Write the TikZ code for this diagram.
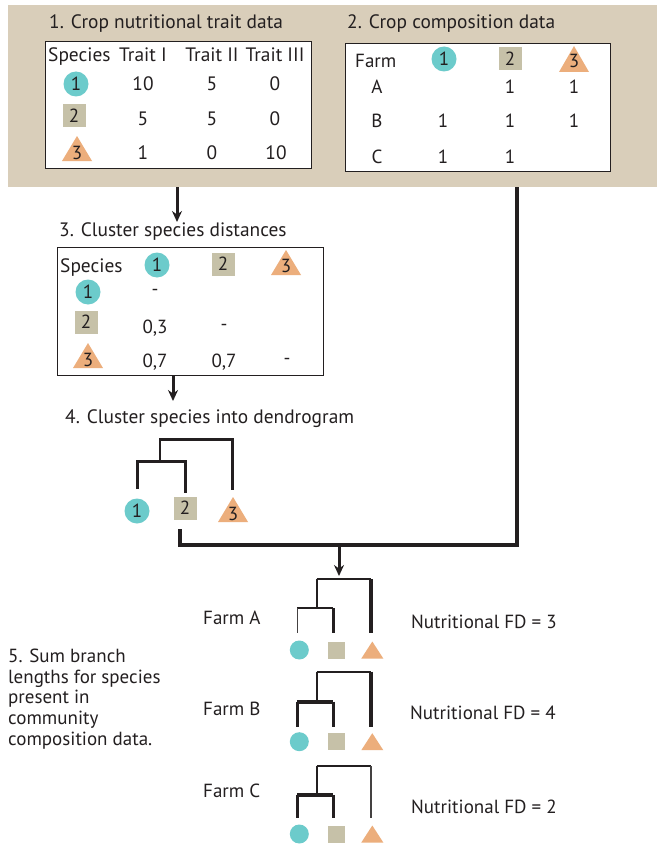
\documentclass[tikz,border=0pt]{standalone}
\usepackage{fontspec}
\setmainfont{PT Sans}
\usetikzlibrary{arrows.meta}
\definecolor{tanbg}{RGB}{217,206,186}
\definecolor{tealc}{RGB}{108,203,203}
\definecolor{sqc}{RGB}{198,193,168}
\definecolor{tric}{RGB}{236,174,124}
\definecolor{ink}{RGB}{35,31,32}
\tikzset{
  txt/.style={font=\fontsize{19}{22}\selectfont, text=ink, inner sep=0pt},
  big/.style={txt, font=\fontsize{19.4}{22}\selectfont},
  small/.style={txt, font=\fontsize{19}{22}\selectfont},
  ttl/.style={big, anchor=base west},
  spc/.style={circle, fill=tealc, minimum size=25pt, inner sep=0pt, txt},
  sps/.style={rectangle, fill=sqc, minimum size=23pt, inner sep=0pt, txt},
  spcs/.style={circle, fill=tealc, minimum size=19pt, inner sep=0pt},
  spss/.style={rectangle, fill=sqc, minimum size=17pt, inner sep=0pt},
  tbl/.style={draw=ink, line width=1.4pt, fill=white, inner sep=0pt, anchor=north west},
  conn/.style={draw=ink, line width=3.2pt},
  arr/.style={draw=ink, line width=3pt, -{Stealth[length=11pt,width=10pt]}},
  dendro/.style={draw=ink, line width=2.6pt},
  dthin/.style={draw=ink!85, line width=1.6pt},
  dmed/.style={draw=ink, line width=2.2pt},
  dthick/.style={draw=ink, line width=3.6pt},
}
\newcommand\tritag[6]{% name, x, ytop, ybottom, baseline, style
  \fill[tric] (#2-15,#4) -- (#2+15,#4) -- (#2,#3) -- cycle;
  \node[#6, anchor=base] (#1) at (#2,#5) {3};}
\newcommand\trismall[4]{% name, x, ytop, ybottom
  \fill[tric] (#2-11,#4) -- (#2+11,#4) -- (#2,#3) -- cycle;
  \coordinate (#1) at (#2,#3/2+#4/2);}
\begin{document}
\begin{tikzpicture}[x=1pt,y=-1pt]
\useasboundingbox (0,0) rectangle (657,848);
\fill[white] (0,0) rectangle (657,848);
% panel
\node[fill=tanbg, minimum width=649pt, minimum height=182pt, inner sep=0pt, anchor=north west] (panel) at (8,5) {};
% ---- table 1
\node[ttl] (t1) at (49,29) {1. Crop nutritional trait data};
\node[tbl, minimum width=266pt, minimum height=127pt] (tab1) at (45,41) {};
\node[big, anchor=base west] (h1a) at (48,62) {Species};
\node[big, anchor=base] (h1b) at (143,62) {Trait I};
\node[big, anchor=base] (h1c) at (212,62) {Trait II};
\node[big, anchor=base] (h1d) at (275,62) {Trait III};
\node[spc] (s11) at (76,84) {1};
\node[sps] (s12) at (74,116) {2};
\tritag{s13}{77}{136}{161}{159}{txt}
\node[big, anchor=base] (v11) at (143,91) {10};
\node[big, anchor=base] (v12) at (212,91) {5};
\node[big, anchor=base] (v13) at (275,91) {0};
\node[big, anchor=base] (v21) at (143,125) {5};
\node[big, anchor=base] (v22) at (212,125) {5};
\node[big, anchor=base] (v23) at (275,125) {0};
\node[big, anchor=base] (v31) at (143,159) {1};
\node[big, anchor=base] (v32) at (212,159) {0};
\node[big, anchor=base] (v33) at (276,159) {10};
% ---- table 2
\node[ttl] (t2) at (347,29) {2. Crop composition data};
\node[tbl, minimum width=265pt, minimum height=128pt] (tab2) at (345,43) {};
\node[txt, anchor=base west] (f0) at (355,68) {Farm};
\node[spc] (c21) at (444,59) {1};
\node[sps] (c22) at (510,59) {2};
\tritag{c23}{574}{46}{72}{68}{txt}
\node[txt, anchor=base] (fa) at (377,94) {A};
\node[txt, anchor=base] (fb) at (377,128) {B};
\node[txt, anchor=base] (fc) at (377,163) {C};
\node[txt, anchor=base] (a2) at (510,94) {1};
\node[txt, anchor=base] (a3) at (574,94) {1};
\node[txt, anchor=base] (b1) at (443,128) {1};
\node[txt, anchor=base] (b2) at (510,128) {1};
\node[txt, anchor=base] (b3) at (574,128) {1};
\node[txt, anchor=base] (cc1) at (443,163) {1};
\node[txt, anchor=base] (cc2) at (510,163) {1};
% ---- table 3
\node[ttl] (t3) at (59,236) {3. Cluster species distances};
\node[tbl, minimum width=266pt, minimum height=128pt] (tab3) at (57,247) {};
\node[big, anchor=base west] (h3) at (60,272) {Species};
\node[spc] (d01) at (157,265) {1};
\node[sps] (d02) at (223,264) {2};
\tritag{d03}{286}{250}{275}{272}{txt}
\node[spc] (d10) at (88,292) {1};
\node[sps] (d20) at (86,322) {2};
\tritag{d30}{88}{343}{368}{366}{txt}
\node[txt] (m11) at (155,292) {-};
\node[txt, anchor=base] (m21) at (155,333) {0,3};
\node[txt] (m22) at (224,327) {-};
\node[txt, anchor=base] (m31) at (155,367) {0,7};
\node[txt, anchor=base] (m32) at (224,367) {0,7};
\node[txt] (m33) at (287,361) {-};
% ---- dendrogram 4
\node[ttl] (t4) at (65,423) {4. Cluster species into dendrogram};
\node[spc] (e1) at (137,511) {1};
\node[sps] (e2) at (185,508) {2};
\tritag{e3}{233}{497}{522}{520}{txt}
\coordinate (n1) at (137.7,489);
\coordinate (n2) at (185.7,492.7);
\coordinate (n3) at (232.3,490);
\coordinate (j1) at (160,461.7);
\coordinate (j0) at (196,439.3);
\draw[dendro] (n1) |- (j1) -| (n2);
\draw[dendro] (j1) |- (j0) -| (n3);
% ---- connectors
\coordinate (a0) at (177,187);
\draw[arr] (a0) -- (a0 |- t3.north);
\coordinate (a1) at (173,375);
\draw[arr] (a1) -- (173,401);
\coordinate (k1) at (180,529);
\coordinate (k2) at (517,545);
\coordinate (k3) at (339,545);
\coordinate (k4) at (339,576);
\draw[conn] (k1) |- (k2) -- (k2 |- panel.south);
\draw[arr] (k3) -- (k4);
% ---- farms
\newcommand\farm[9]{% #1 name, #2 ytop, #3 yinner, #4 ybottom, #5 ysym, #6 style circle, #7 style square, #8 style tri, #9 style inner h
  \draw[#9] (297.3,#3) -- (333.3,#3);
  \draw[dmed] (316.7,#3) -- (316.7,#2);
  \draw[dmed] (316.7,#2) -- (370.7,#2);
  \draw[#6] (297.3,#3) -- (297.3,#4);
  \draw[#7] (333.3,#3) -- (333.3,#4);
  \draw[#8] (370.7,#2) -- (370.7,#4);
  \node[spcs] (#1c) at (299.3,#5) {};
  \node[spss] (#1s) at (336.7,#5) {};
  \trismall{#1t}{372.3}{#5-8.5}{#5+8.5}
}
\farm{fA}{579.3}{608.3}{633.3}{650}{dthin}{dthick}{dthick}{dmed}
\farm{fB}{671.7}{701.7}{726.7}{741.7}{dthick}{dthick}{dthick}{dthick}
\farm{fC}{766}{795}{818.3}{834}{dthick}{dthick}{dthin}{dthick}
\node[small, anchor=base west] (la) at (203,624) {Farm A};
\node[small, anchor=base west] (lb) at (203,715) {Farm B};
\node[small, anchor=base west] (lc) at (203,797) {Farm C};
\node[small, anchor=base west] (ra) at (411,628) {Nutritional FD = 3};
\node[small, anchor=base west] (rb) at (410,719) {Nutritional FD = 4};
\node[small, anchor=base west] (rc) at (411,813) {Nutritional FD = 2};
% ---- step 5
\node[small, anchor=base west] (s5) at (8,662) {5. Sum branch};
\node[small, anchor=base west] (s5b) at (8,683) {lengths for species};
\node[small, anchor=base west] (s5c) at (8,703) {present in};
\node[small, anchor=base west] (s5d) at (8,724) {community};
\node[small, anchor=base west] (s5e) at (8,745) {composition data.};
\end{tikzpicture}
\end{document}
